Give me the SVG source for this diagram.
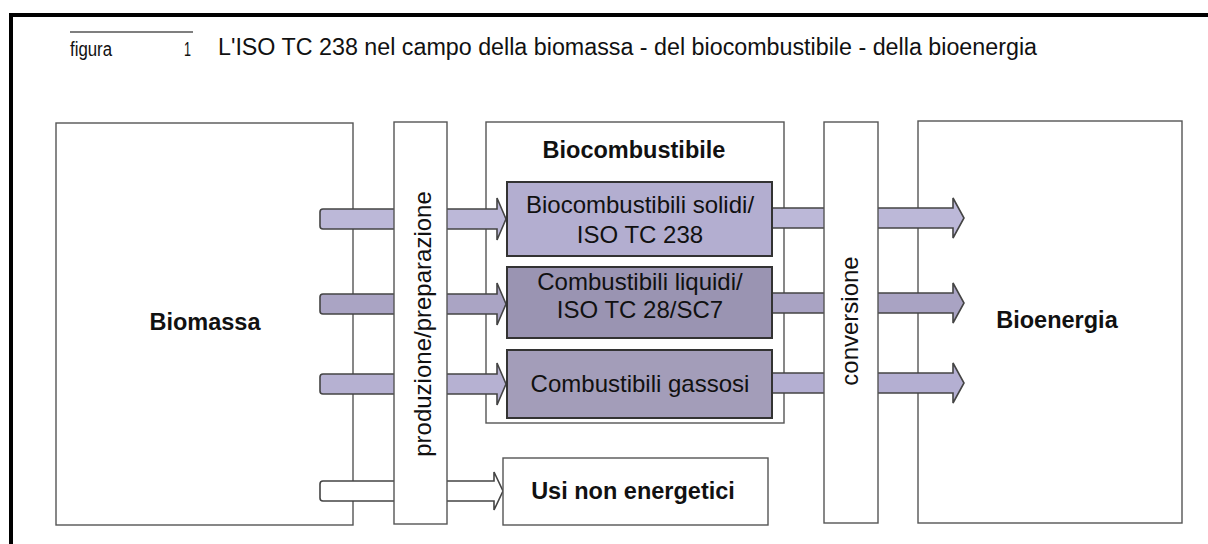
<svg xmlns="http://www.w3.org/2000/svg" width="1208" height="544" viewBox="0 0 1208 544">
<style>
.box{fill:#fff;stroke:#555;stroke-width:1.4}
.inner{stroke:#333;stroke-width:2}
.arr{stroke:#444;stroke-width:1.6;stroke-linejoin:miter}
.t{font-family:"Liberation Sans",Arial,sans-serif;fill:#111}
.b{font-weight:bold;font-size:23.5px;text-anchor:middle}
.n{font-size:24px;text-anchor:middle}
</style>
<rect width="1208" height="544" fill="#fff"/>
<g id="frame">
<rect x="9" y="13" width="1199" height="4" fill="#000"/>
<rect x="9" y="13" width="4" height="531" fill="#000"/>
</g>
<g id="header">
<line x1="70" y1="32" x2="193" y2="32" stroke="#555" stroke-width="1.5"/>
<text class="t" x="70" y="56" font-size="20" textLength="42" lengthAdjust="spacingAndGlyphs" fill="#444">figura</text>
<text class="t" x="184" y="56" font-size="20" textLength="7" lengthAdjust="spacingAndGlyphs" fill="#444">1</text>
<text class="t" x="218" y="55" font-size="23" textLength="819" lengthAdjust="spacingAndGlyphs" fill="#222">L'ISO TC 238 nel campo della biomassa - del biocombustibile - della bioenergia</text>
</g>
<g id="biomassa">
<rect class="box" x="56" y="123" width="297" height="402"/>
<text class="t b" x="205" y="330">Biomassa</text>
</g>
<g id="bioenergia">
<rect class="box" x="918" y="121" width="264" height="402"/>
<text class="t b" x="1057" y="328">Bioenergia</text>
</g>
<g id="biocombustibile">
<rect class="box" x="486" y="122" width="298" height="301"/>
<text class="t b" x="634" y="158">Biocombustibile</text>
</g>
<g id="connectors">
<path class="arr" fill="#bcb8d8" d="M323,209 H497 V198 L506,219 L497,240 V229 H323 Q320,229 320,226 V212 Q320,209 323,209 Z"/>
<path class="arr" fill="#aaa4c4" d="M323,294 H497 V283 L506,304 L497,325 V314 H323 Q320,314 320,311 V297 Q320,294 323,294 Z"/>
<path class="arr" fill="#b6b1d2" d="M323,374 H497 V363 L506,384 L497,405 V394 H323 Q320,394 320,391 V377 Q320,374 323,374 Z"/>
<path class="arr" fill="#fff" d="M323,481 H494 V472 L503,491 L494,510 V501 H323 Q320,501 320,498 V484 Q320,481 323,481 Z"/>
<path class="arr" fill="#bcb8d8" d="M772,208 H953 V198 L964,218 L953,238 V228 H772 Z"/>
<path class="arr" fill="#a9a3c3" d="M772,293 H953 V283 L964,303 L953,323 V313 H772 Z"/>
<path class="arr" fill="#b4afd2" d="M772,373 H953 V363 L964,383 L953,403 V393 H772 Z"/>
</g>
<g id="produzione">
<rect class="box" x="394" y="122" width="53" height="402"/>
<text class="t n" transform="translate(431,324) rotate(-90)">produzione/preparazione</text>
</g>
<g id="conversione">
<rect class="box" x="824" y="122" width="54" height="401"/>
<text class="t n" transform="translate(858,321) rotate(-90)">conversione</text>
</g>
<g id="solidi">
<rect class="inner" x="507" y="182" width="265" height="74" fill="#b3aed0"/>
<text class="t n" x="640" y="213">Biocombustibili solidi/</text>
<text class="t n" x="640" y="243">ISO TC 238</text>
</g>
<g id="liquidi">
<rect class="inner" x="507" y="267" width="265" height="71" fill="#9a94b2"/>
<text class="t n" x="640" y="290">Combustibili liquidi/</text>
<text class="t n" x="640" y="318">ISO TC 28/SC7</text>
</g>
<g id="gassosi">
<rect class="inner" x="507" y="350" width="265" height="68" fill="#a39db9"/>
<text class="t n" x="640" y="392">Combustibili gassosi</text>
</g>
<g id="usi">
<rect class="box" x="503" y="458" width="265" height="67" stroke="#444" stroke-width="1.8"/>
<text class="t b" x="633" y="499">Usi non energetici</text>
</g>
</svg>
